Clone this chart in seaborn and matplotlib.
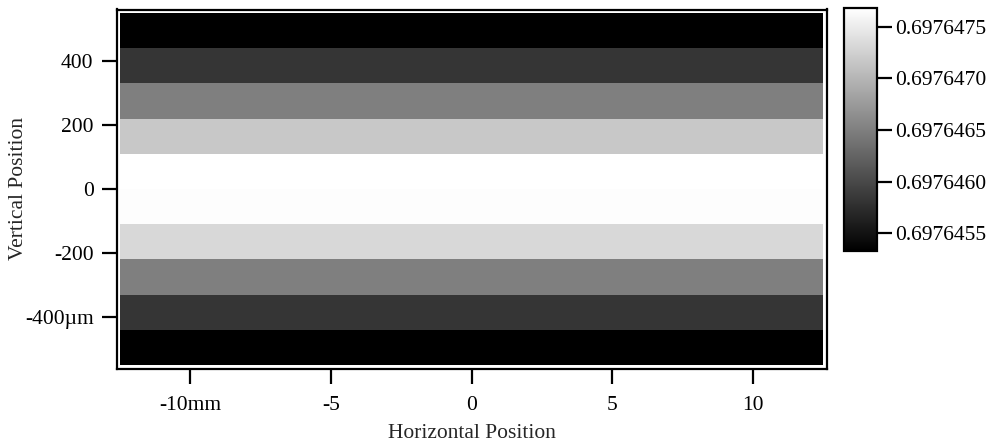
import numpy as np
import pandas as pd
import matplotlib
matplotlib.use("Agg")
import matplotlib.pyplot as plt
import seaborn as sns

# Band centres (µm, top to bottom) and the value measured in each band
band_centers_um = [495, 385, 275, 165, 55, -55, -165, -275, -385, -495]
band_values = [0.69764533, 0.69764582, 0.69764650, 0.69764717, 0.69764768,
               0.69764766, 0.69764732, 0.69764650, 0.69764582, 0.69764533]
band_height_um = 110
x_range_mm = [-12.5, 12.5]

x_ticks = [-10, -5, 0, 5, 10]
x_ticklabels = ["-10mm", "-5", "0", "5", "10"]
y_ticks = [400, 200, 0, -200, -400]
y_ticklabels = ["400", "200", "0", "-200", "-400\u00b5m"]
cbar_ticks = [0.6976455, 0.6976460, 0.6976465, 0.6976470, 0.6976475]
vmin, vmax = 0.69764533, 0.69764768

sns.set_style("white")
plt.rcParams["font.family"] = ["Liberation Serif", "DejaVu Serif"]
plt.rcParams["font.size"] = 15.5

fig = plt.figure(figsize=(9.93, 4.42), dpi=100)
ax = fig.add_axes([116.5 / 993, 1 - 368.5 / 442, 710 / 993, 359 / 442])
cax = fig.add_axes([844 / 993, 1 - 251 / 442, 33 / 993, 243 / 442])

df = pd.DataFrame({"v": band_values}, index=band_centers_um)
sns.heatmap(df, ax=ax, cbar_ax=cax, cmap="gray", vmin=vmin, vmax=vmax,
            xticklabels=False, yticklabels=False,
            cbar_kws={"ticks": cbar_ticks, "format": "%.7f"})

# map physical coordinates onto heatmap cell coordinates
top_um = band_centers_um[0] + band_height_um / 2
def y_pos(v):
    return (top_um - v) / band_height_um

def x_pos(v):
    return (v - x_range_mm[0]) / (x_range_mm[1] - x_range_mm[0])

n = len(band_values)
ax.set_xlim(-0.005, 1.005)
ax.set_ylim(n + 0.1, -0.1)
ax.set_facecolor("white")

ax.set_xticks([x_pos(v) for v in x_ticks])
ax.set_xticklabels(x_ticklabels)
ax.set_yticks([y_pos(v) for v in y_ticks])
ax.set_yticklabels(y_ticklabels, rotation=0)

for s in ax.spines.values():
    s.set_visible(True)
    s.set_color("black")
    s.set_linewidth(1.6)

ax.tick_params(axis="both", which="major", direction="out", length=11,
               width=1.6, color="black", labelcolor="black",
               bottom=True, left=True)
ax.tick_params(axis="x", pad=8.5)
ax.tick_params(axis="y", pad=5.5)

ax.set_xlabel("Horizontal Position")
ax.set_ylabel("Vertical Position", va="center")
ax.xaxis.set_label_coords(0.5, -0.155)
ax.yaxis.set_label_coords(-0.138, 0.5)
ax.xaxis.label.set_va("top")

cbar = ax.collections[0].colorbar
cbar.outline.set_edgecolor("black")
cbar.outline.set_linewidth(1.6)
cax.tick_params(direction="out", length=11, width=1.6, pad=2,
                color="black", labelcolor="black", right=True)

fig.savefig("out.png", dpi=100)
